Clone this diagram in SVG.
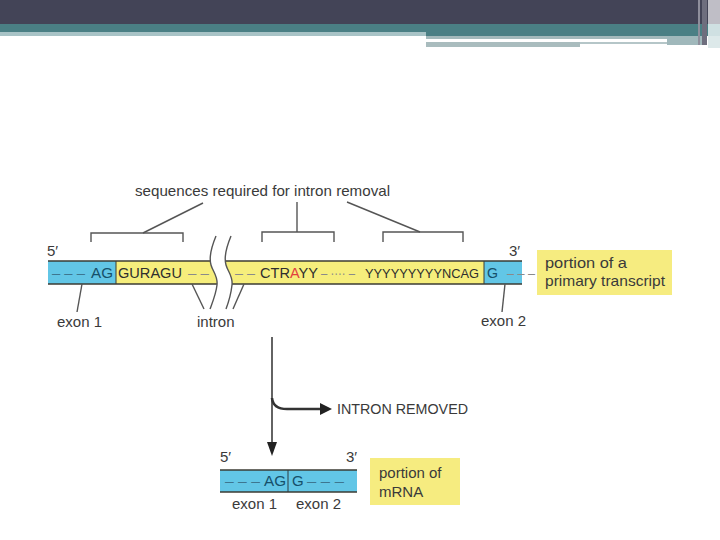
<svg xmlns="http://www.w3.org/2000/svg" width="720" height="540" viewBox="0 0 720 540">
<style>
text{font-family:"Liberation Sans",Arial,sans-serif;}
.lbl{font-size:15px;fill:#3a3a3a;}
.seq{font-size:15px;fill:#2e2e2e;}
.exn{font-size:15px;fill:#16506a;}
.dsh{font-size:15px;fill:#8a8a8a;}
.dshb{font-size:15px;fill:#3d7690;}
.box{fill:#f6ec80;}
.ln{stroke:#555;stroke-width:1.4;fill:none;}
.bd{stroke:#3b3b33;stroke-width:1.6;}
</style>
<rect width="720" height="540" fill="#ffffff"/>
<g id="header">
<rect x="0" y="0" width="720" height="24" fill="#434457"/>
<rect x="0" y="24" width="720" height="8" fill="#4a7f84"/>
<rect x="0" y="32" width="426" height="4" fill="#a8c3c6"/>
<rect x="426" y="32" width="294" height="4" fill="#4a7f84"/>
<rect x="426" y="36" width="241" height="3" fill="#a3b9bb"/>
<rect x="426" y="42" width="154" height="5" fill="#a9bcbe"/>
<rect x="580" y="42" width="87" height="2" fill="#b5c6c8"/>
<rect x="667" y="36" width="40" height="9" fill="#a0b8bb"/>
<rect x="698" y="0" width="2" height="45" fill="#8f8f9c"/>
<rect x="702" y="0" width="5" height="45" fill="#6e6e7e"/>
<rect x="708" y="0" width="12" height="24" fill="#bfbec6"/>
<rect x="708" y="24" width="12" height="12" fill="#cfe0e2"/>
<rect x="708" y="36" width="12" height="12" fill="#dde9ea"/>
</g>
<g id="title">
<text class="lbl" x="135" y="196" textLength="255" lengthAdjust="spacingAndGlyphs">sequences required for intron removal</text>
</g>
<g id="transcript">
<rect x="48" y="261" width="68" height="23" fill="#62c6e6"/>
<rect x="116" y="261" width="368" height="23" fill="#f6ee7c"/>
<rect x="484" y="261" width="38" height="23" fill="#62c6e6"/>
<line class="bd" x1="48" y1="261" x2="522" y2="261"/>
<line class="bd" x1="48" y1="284" x2="522" y2="284"/>
<line x1="116" y1="261" x2="116" y2="284" stroke="#3b3b33" stroke-width="1"/>
<line x1="484" y1="261" x2="484" y2="284" stroke="#3b3b33" stroke-width="1"/>
<path d="M211,258 L211,265 C213,272 218,276 217,286 L232,286 C233,276 228,272 226,265 L225,258 Z" fill="#ffffff"/>
<text class="dshb" x="52" y="278" textLength="33" lengthAdjust="spacingAndGlyphs">– – –</text>
<text class="exn" x="91" y="278" textLength="22" lengthAdjust="spacingAndGlyphs">AG</text>
<text class="seq" x="118" y="278" textLength="64" lengthAdjust="spacingAndGlyphs">GURAGU</text>
<text class="dsh" x="188" y="278" textLength="21" lengthAdjust="spacingAndGlyphs">– –</text>
<text class="dsh" x="235" y="278" textLength="20" lengthAdjust="spacingAndGlyphs">– –</text>
<text class="seq" x="260" y="278" textLength="58" lengthAdjust="spacingAndGlyphs">CTR<tspan fill="#e2403f">A</tspan>YY</text>
<text class="dsh" x="321" y="278" textLength="34" lengthAdjust="spacingAndGlyphs">– ···· –</text>
<text class="seq" x="365" y="278" style="font-size:13.5px" textLength="114" lengthAdjust="spacingAndGlyphs">YYYYYYYYYNCAG</text>
<text class="exn" x="487" y="278" textLength="11" lengthAdjust="spacingAndGlyphs">G</text>
<text class="dsh" x="507" y="278" textLength="28" lengthAdjust="spacingAndGlyphs">– – –</text>
<text class="lbl" x="47" y="256">5′</text>
<text class="lbl" x="509" y="256">3′</text>
</g>
<g id="break">
<path class="ln" d="M216,236 C211,248 209,258 211,265 C213,272 218,276 217,285 C216,294 213,301 210,309"/>
<path class="ln" d="M231,236 C226,248 224,258 226,265 C228,272 233,276 232,285 C231,294 229,301 226,309"/>
</g>
<g id="label-primary">
<rect class="box" x="537" y="250" width="135" height="45"/>
<text class="lbl" x="545" y="268" textLength="82" lengthAdjust="spacingAndGlyphs">portion of a</text>
<text class="lbl" x="545" y="286" textLength="120" lengthAdjust="spacingAndGlyphs">primary transcript</text>
</g>
<g id="exon1-label"><text class="lbl" x="57" y="327">exon 1</text></g>
<g id="intron-label"><text class="lbl" x="197" y="327">intron</text></g>
<g id="exon2-label"><text class="lbl" x="481" y="326">exon 2</text></g>
<g id="intron-removed"><text class="lbl" x="337" y="414" textLength="131" lengthAdjust="spacingAndGlyphs">INTRON REMOVED</text></g>
<g id="mrna">
<rect x="220" y="470" width="137" height="22" fill="#62c6e6"/>
<line class="bd" x1="220" y1="470" x2="357" y2="470"/>
<line class="bd" x1="220" y1="492" x2="357" y2="492"/>
<line x1="288" y1="470" x2="288" y2="492" stroke="#2d3a40" stroke-width="1"/>
<text class="dshb" x="225" y="486" textLength="35" lengthAdjust="spacingAndGlyphs">– – –</text>
<text class="exn" x="264" y="486" textLength="22" lengthAdjust="spacingAndGlyphs">AG</text>
<text class="exn" x="292" y="486">G</text>
<text class="dshb" x="307" y="486" textLength="37" lengthAdjust="spacingAndGlyphs">– – –</text>
<text class="lbl" x="220" y="462">5′</text>
<text class="lbl" x="346" y="462">3′</text>
<text class="lbl" x="232" y="509">exon 1</text>
<text class="lbl" x="296" y="509">exon 2</text>
</g>
<g id="label-mrna">
<rect class="box" x="370" y="458" width="90" height="47"/>
<text class="lbl" x="379" y="478">portion of</text>
<text class="lbl" x="379" y="497">mRNA</text>
</g>
<g id="connectors">
<path class="ln" d="M91,242 V233 H183 V242"/>
<line class="ln" x1="143" y1="233" x2="203" y2="203"/>
<path class="ln" d="M262,242 V232 H334 V242"/>
<line class="ln" x1="297" y1="232" x2="297" y2="202"/>
<path class="ln" d="M383,242 V232 H463 V242"/>
<line class="ln" x1="420" y1="232" x2="347" y2="202"/>
<line class="ln" x1="82" y1="284" x2="77" y2="312"/>
<line class="ln" x1="192" y1="284" x2="204" y2="309"/>
<line class="ln" x1="244" y1="284" x2="233" y2="309"/>
<line class="ln" x1="505" y1="284" x2="502" y2="312"/>
<line x1="272" y1="337" x2="272" y2="446" stroke="#222" stroke-width="1.4"/>
<polygon points="267,442 277,442 272,456" fill="#222"/>
<path d="M272,398 Q273,409 287,409 H322" fill="none" stroke="#333" stroke-width="2.6"/>
<polygon points="320,403 332,409 320,415" fill="#222"/>
</g>
</svg>
